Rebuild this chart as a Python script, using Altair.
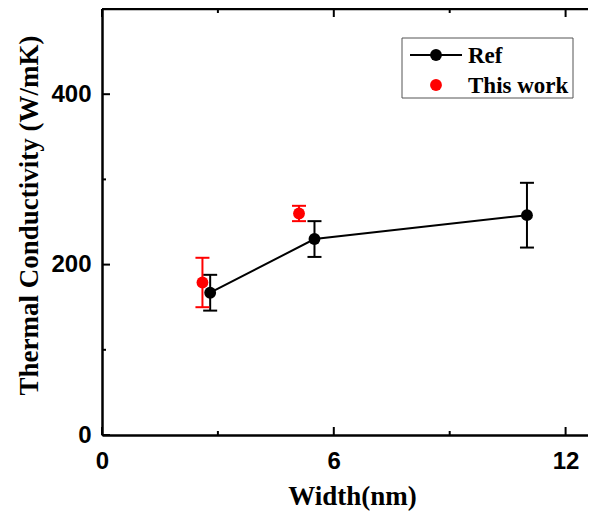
import altair as alt
import pandas as pd

# ---- data ----
ref_x = [2.8, 5.5, 11.0]
ref_y = [167, 230, 258]
ref_err = [21, 21, 38]

this_x = [2.6, 5.1]
this_y = [179, 260]
this_err = [29, 9]

x_ticks_major = [0, 6, 12]
x_ticks_minor = [3, 9]
y_ticks_major = [0, 200, 400]
y_ticks_minor = [100, 300]

legend_labels = ["Ref", "This work"]
series_colors = ["#000000", "#ff0000"]

# ---- layout ----
W, H = 486, 426
XMAX, YMAX = 12.58, 500
SERIF = "Liberation Serif"
SANS = "Liberation Sans"

ref = pd.DataFrame({"x": ref_x, "y": ref_y,
                    "lo": [v - e for v, e in zip(ref_y, ref_err)],
                    "hi": [v + e for v, e in zip(ref_y, ref_err)]})
this = pd.DataFrame({"x": this_x, "y": this_y,
                     "lo": [v - e for v, e in zip(this_y, this_err)],
                     "hi": [v + e for v, e in zip(this_y, this_err)]})

xs = alt.Scale(domain=[0, XMAX], nice=False, zero=False)
ys = alt.Scale(domain=[0, YMAX], nice=False)

x_axis = alt.Axis(values=x_ticks_major, title="Width(nm)", ticks=False, tickSize=0,
                  domain=True, domainColor="black", domainWidth=2.5, grid=False,
                  labelFont=SANS, labelFontWeight="bold", labelFontSize=24,
                  labelColor="black", labelPadding=14, labelFlush=False,
                  titleFont=SERIF, titleFontWeight="bold", titleFontSize=27,
                  titleColor="black", titleX=250, titleY=69,
                  titleBaseline="alphabetic", titleAlign="center")
y_axis = alt.Axis(values=y_ticks_major, title="Thermal Conductivity (W/mK)",
                  ticks=False, tickSize=0, domain=True, domainColor="black",
                  domainWidth=2.5, grid=False,
                  labelFont=SANS, labelFontWeight="bold", labelFontSize=24,
                  labelColor="black", labelPadding=11, labelFlush=False,
                  titleFont=SERIF, titleFontWeight="bold", titleFontSize=27,
                  titleColor="black", titleAngle=270, titleX=-65, titleY=206,
                  titleBaseline="alphabetic", titleAlign="center")

X = alt.X("x:Q", scale=xs, axis=x_axis)
Y = alt.Y("y:Q", scale=ys, axis=y_axis)

line = alt.Chart(ref).mark_line(color=series_colors[0], strokeWidth=2).encode(x=X, y=Y)


def errbars(df, color):
    base = alt.Chart(df)
    rule = base.mark_rule(color=color, strokeWidth=2).encode(
        x=alt.X("x:Q"), y=alt.Y("lo:Q"), y2="hi:Q")
    cap_lo = base.mark_tick(orient="horizontal", size=14, thickness=2, color=color,
                            opacity=1).encode(x="x:Q", y=alt.Y("lo:Q"))
    cap_hi = base.mark_tick(orient="horizontal", size=14, thickness=2, color=color,
                            opacity=1).encode(x="x:Q", y=alt.Y("hi:Q"))
    pts = base.mark_circle(size=140, color=color, opacity=1).encode(x="x:Q", y="y:Q")
    return [rule, cap_lo, cap_hi, pts]


ref_layers = errbars(ref, series_colors[0])
this_layers = errbars(this, series_colors[1])

# inward ticks (bottom, top, left)
xt_major = alt.Chart(pd.DataFrame({"x": x_ticks_major}))
xt_minor = alt.Chart(pd.DataFrame({"x": x_ticks_minor}))
yt_major = alt.Chart(pd.DataFrame({"y": y_ticks_major}))
yt_minor = alt.Chart(pd.DataFrame({"y": y_ticks_minor}))
tick_layers = []
for c, L in [(xt_major, 8), (xt_minor, 4)]:
    tick_layers.append(c.mark_rule(color="black", strokeWidth=2).encode(
        x="x:Q", y=alt.value(H), y2=alt.value(H - L)))
    tick_layers.append(c.mark_rule(color="black", strokeWidth=2).encode(
        x="x:Q", y=alt.value(0), y2=alt.value(L)))
for c, L in [(yt_major, 8), (yt_minor, 4)]:
    tick_layers.append(c.mark_rule(color="black", strokeWidth=2).encode(
        y="y:Q", x=alt.value(0), x2=alt.value(L)))

one = alt.Chart(pd.DataFrame({"a": [0]}))
top_frame = one.mark_rule(color="black", strokeWidth=2.5).encode(
    x=alt.value(0), x2=alt.value(W), y=alt.value(0))

# legend
leg_box = one.mark_rect(fill="white", stroke="#555555", strokeWidth=1).encode(
    x=alt.value(300), x2=alt.value(471), y=alt.value(29), y2=alt.value(89))
leg_line = one.mark_rule(color=series_colors[0], strokeWidth=2).encode(
    x=alt.value(308), x2=alt.value(360), y=alt.value(46))
leg_dot1 = one.mark_circle(size=140, color=series_colors[0], opacity=1).encode(
    x=alt.value(334), y=alt.value(46))
leg_dot2 = one.mark_circle(size=140, color=series_colors[1], opacity=1).encode(
    x=alt.value(334), y=alt.value(76))
leg_txt1 = alt.Chart(pd.DataFrame({"label": [legend_labels[0]]})).mark_text(
    align="left", baseline="alphabetic", font=SERIF, fontWeight="bold",
    fontSize=23, color="black").encode(x=alt.value(366), y=alt.value(54), text="label:N")
leg_txt2 = alt.Chart(pd.DataFrame({"label": [legend_labels[1]]})).mark_text(
    align="left", baseline="alphabetic", font=SERIF, fontWeight="bold",
    fontSize=23, color="black").encode(x=alt.value(366), y=alt.value(84), text="label:N")

chart = alt.layer(
    line, *ref_layers, *this_layers, *tick_layers, top_frame,
    leg_box, leg_line, leg_dot1, leg_dot2, leg_txt1, leg_txt2
).properties(
    width=W, height=H,
    autosize=alt.AutoSizeParams(type="none"),
    padding={"left": 94, "top": 1, "right": 0, "bottom": 77},
    background="white",
).configure_view(stroke="transparent")

chart.save("out.html", embed_options={"renderer": "svg", "actions": False})
